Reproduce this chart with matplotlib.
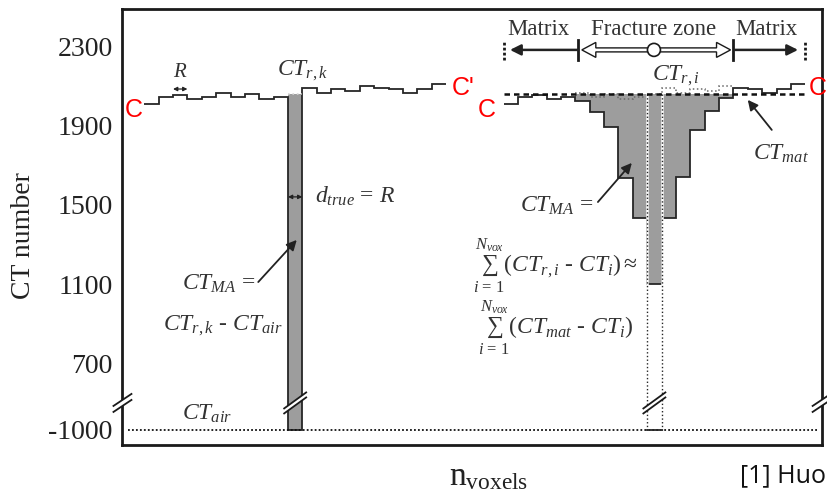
import numpy as np
import matplotlib
matplotlib.use("Agg")
import matplotlib.pyplot as plt
import matplotlib.patches as mpatches

plt.rcParams["mathtext.fontset"] = "custom"
plt.rcParams["mathtext.rm"] = "Liberation Serif"
plt.rcParams["mathtext.it"] = "Liberation Serif:italic"
plt.rcParams["mathtext.bf"] = "Liberation Serif:bold"
plt.rcParams["font.family"] = ["Liberation Serif", "DejaVu Serif"]

# ---------------------------------------------------------------- data
# CT numbers of the reference (matrix) profile, one value per voxel
ct_ref = [2013, 2045, 2057, 2035, 2048, 2069, 2048, 2060, 2035, 2048, 2060,
          2091, 2069, 2086, 2079, 2103, 2091, 2086, 2069, 2086, 2113]
ct_air = -1000
ct_mat = 2060
# scanned CT numbers across the fracture zone (voxels 5..15 of the profile)
ct_fracture = [2028, 1972, 1897, 1638, 1433, 1100, 1433, 1643, 1880, 1977, 2040]
ytick_values = [-1000, 700, 1100, 1500, 1900, 2300]
ytick_labels = ["-1000", "700", "1100", "1500", "1900", "2300"]

thin_voxel = 10                 # single open voxel of the left profile
zone_start, zone_end = 5, 16    # fracture-zone voxels of the right profile
deep_voxel = 10                 # deepest voxel of the fracture zone
left_offset, right_offset = 0, 25

# ------------------------------------------------------- broken y axis
AIR_POS = 361.0   # where the -1000 level sits below the axis break
BREAK_Y = 498.0   # height of the break marks


def ymap(v):
    v = np.asarray(v, float)
    return np.where(v >= 700, v,
                    AIR_POS + (v - ct_air) * (700 - AIR_POS) / (700 - ct_air))


LINE = "#262626"
GRAY = "#9d9d9d"
TXT = "#333333"

fig = plt.figure(figsize=(8.28, 4.92), dpi=100)
ax = fig.add_axes([0.1479, 0.0955, 0.8444, 0.8862])
XLIM = (-1.52, 47.14)
YLIM = (285, 2492)
ax.set_xlim(*XLIM)
ax.set_ylim(*YLIM)

for s in ax.spines.values():
    s.set_linewidth(2.0)
    s.set_color("#1a1a1a")
ax.set_xticks([])
ax.set_yticks(ymap(ytick_values))
ax.set_yticklabels(ytick_labels, fontsize=20, color="#222222")
ax.tick_params(axis="y", length=0, pad=7)

# pixel sizes of one data unit (for small decorations)
fw, fh = fig.get_size_inches() * fig.dpi
pos = ax.get_position()
PXU = pos.width * fw / (XLIM[1] - XLIM[0])
PXC = pos.height * fh / (YLIM[1] - YLIM[0])


def px_x(p):
    return p / PXU


def px_y(p):
    return p / PXC


# ------------------------------------------------------- left profile
edges_left = np.arange(len(ct_ref) + 1) + left_offset
scan_left = list(ct_ref)
scan_left[thin_voxel] = ct_air
k0 = left_offset + thin_voxel
ax.stairs(ymap([ct_ref[thin_voxel]]), [k0, k0 + 1],
          baseline=float(ymap(ct_air)), fill=True, color=GRAY, zorder=2)
ax.stairs(ymap(scan_left), edges_left, baseline=None, color=LINE, lw=1.3,
          zorder=3)
ax.plot([k0, k0 + 1], [ct_ref[thin_voxel]] * 2, ls=":", color="#d8d8d8",
        lw=1.2, zorder=4)

# ------------------------------------------------------ right profile
edges_right = np.arange(len(ct_ref) + 1) + right_offset
scan_right = list(ct_ref)
scan_right[zone_start:zone_end] = ct_fracture
z0, z1 = right_offset + zone_start, right_offset + zone_end
ax.stairs(ct_fracture, np.arange(z0, z1 + 1), baseline=ct_mat, fill=True,
          color=GRAY, zorder=2)
ax.stairs(ct_ref[zone_start:zone_end], np.arange(z0, z1 + 1), baseline=None,
          color="#6a6a6a", lw=1.1, ls=":", zorder=3)
ax.stairs(scan_right, edges_right, baseline=None, color=LINE, lw=1.3, zorder=3)

# open column of the deepest voxel, continued down to air
d0 = right_offset + deep_voxel
for xv in (d0, d0 + 1):
    ax.plot([xv, xv], [ct_mat, float(ymap(ct_air))], color="white", lw=1.8,
            zorder=3.5)
    ax.plot([xv, xv], [ct_mat, float(ymap(ct_air))], color=LINE, lw=1.0,
            ls=":", zorder=3.6)
ax.plot([d0, d0 + 1], [float(ymap(ct_air))] * 2, color=LINE, lw=1.3, zorder=3.6)

# matrix level and air level
ax.plot([right_offset, right_offset + len(ct_ref) + 0.1], [ct_mat, ct_mat],
        color="#111111", lw=1.8, ls=(0, (2.2, 1.6)), zorder=4)
ax.plot([-1.1, 46.9], [float(ymap(ct_air))] * 2, color="#111111", lw=1.3,
        ls=(0, (1, 1.2)), zorder=3)


# --------------------------------------------------------- break marks
def break_marks(xc, half_w, rise, gap):
    w, d, g = px_x(half_w), px_y(rise), px_y(gap)
    gap_poly = [(xc - w, BREAK_Y - d - g / 2), (xc + w, BREAK_Y + d - g / 2),
                (xc + w, BREAK_Y + d + g / 2), (xc - w, BREAK_Y - d + g / 2)]
    ax.add_patch(mpatches.Polygon(gap_poly, closed=True, fc="white",
                                  ec="none", zorder=5, clip_on=False))
    for sgn in (-1, 1):
        ax.plot([xc - w, xc + w],
                [BREAK_Y - d + sgn * g / 2, BREAK_Y + d + sgn * g / 2],
                color="#1a1a1a", lw=1.3, zorder=6, clip_on=False)


break_marks(XLIM[0], 9, 6, 6)
break_marks(XLIM[1], 9, 6, 6)
break_marks(k0 + 0.5, 11, 8, 5)
break_marks(d0 + 0.5, 11, 8, 5)

# --------------------------------------------------------- annotations
def arrow(tip, tail, lw=1.3, ms=15, style="-|>"):
    ax.annotate("", xy=tip, xytext=tail,
                arrowprops=dict(arrowstyle=style, lw=lw, color="#222222",
                                mutation_scale=ms, shrinkA=0, shrinkB=0),
                zorder=6)


lab = dict(color=TXT, fontsize=17, zorder=7)

# left section
ax.text(2.5, 2173, r"$R$", ha="center", va="center", **{**lab, "fontsize": 15})
arrow((3.0, 2087), (2.0, 2087), lw=0.9, ms=6, style="<|-|>")
ax.text(9.23, 2158, r"$CT_{r,k}$", ha="left", va="baseline", **lab)
arrow((11.0, 1541), (10.0, 1541), lw=0.9, ms=6, style="<|-|>")
ax.text(11.9, 1510, r"$d_{true}$ = $R$", ha="left", va="baseline", **lab)
ax.text(2.64, 1070, r"$CT_{MA}$ =", ha="left", va="baseline", **lab)
arrow((10.61, 1323), (7.93, 1110))
ax.text(1.31, 867, r"$CT_{r,k}$ - $CT_{air}$", ha="left", va="baseline", **lab)
ax.text(2.6, 411, r"$CT_{air}$", ha="left", va="baseline", **lab)

# right section
ax.text(35.3, 2133, r"$CT_{r,i}$", ha="left", va="baseline", **lab)
ax.text(26.15, 1466, r"$CT_{MA}$ =", ha="left", va="baseline", **lab)
arrow((33.93, 1713), (31.57, 1515))
ax.text(22.9, 1156, r"$\sum_{i\,=\,1}^{N_{vox}}(CT_{r,i}$ - $CT_{i})\approx$",
        ha="left", va="baseline", **lab)
ax.text(23.2, 842, r"$\sum_{i\,=\,1}^{N_{vox}}(CT_{mat}$ - $CT_{i})$",
        ha="left", va="baseline", **lab)
ax.text(42.36, 1728, r"$CT_{mat}$", ha="left", va="baseline", **lab)
arrow((42.0, 2032), (43.67, 1880))

# zone header
hdr = dict(color=TXT, fontsize=16.5, ha="center", va="baseline", zorder=7)
ax.text(27.44, 2361, "Matrix", **hdr)
ax.text(35.47, 2361, "Fracture zone", **hdr)
ax.text(43.3, 2361, "Matrix", **hdr)
ya = 2285
for xv in (z0 - 5, z1 + 5):
    ax.plot([xv, xv], [ya - px_y(10), ya + px_y(10)], color="#1a1a1a", lw=2,
            ls=(0, (1, 0.8)), zorder=6)
for xv in (z0 + 0.2, z1):
    ax.plot([xv, xv], [ya - px_y(10), ya + px_y(10)], color="#1a1a1a", lw=2,
            zorder=6)
arrow((z0 - 4.55, ya), (z0 + 0.2, ya), lw=1.8, ms=16)
arrow((z1 + 4.5, ya), (z1 + 0.1, ya), lw=1.8, ms=16)

xa0, xa1 = z0 + 0.45, z1 - 0.2
hl, hh, sh = px_x(14), px_y(7.5), px_y(2)
hollow = [(xa0, ya), (xa0 + hl, ya + hh), (xa0 + hl, ya + sh),
          (xa1 - hl, ya + sh), (xa1 - hl, ya + hh), (xa1, ya),
          (xa1 - hl, ya - hh), (xa1 - hl, ya - sh), (xa0 + hl, ya - sh),
          (xa0 + hl, ya - hh)]
ax.add_patch(mpatches.Polygon(hollow, closed=True, fc="white", ec="#1a1a1a",
                              lw=1.0, zorder=6))
ax.add_patch(mpatches.Ellipse((35.47, ya), px_x(13), px_y(13), fc="white",
                              ec="#1a1a1a", lw=1.2, zorder=7))

# profile end labels
red = dict(color="#ff0000", fontsize=18, family="Liberation Sans",
           va="center", zorder=8, clip_on=False)
ax.text(-0.7, 1981, "C", ha="center", **red)
ax.text(21.4, 2092, "C'", ha="left", **red)
ax.text(23.85, 1981, "C", ha="center", **red)
ax.text(47.52, 2092, "C", ha="right", **red)

# axis titles and source
fig.text(24 / 828, 0.522, "CT number", rotation=90, ha="center", va="center",
         fontsize=20, color="#222222")
fig.text(489 / 828, 1 - 477 / 492, r"$\mathrm{n}_{\mathrm{voxels}}$",
         ha="center", va="center", fontsize=24, color="#222222")
fig.text(826 / 828, 1 - 476 / 492, "[1] Huo", ha="right", va="center",
         fontsize=18, family="Open Sans", color="#111111")

fig.savefig("out.png", dpi=100)
